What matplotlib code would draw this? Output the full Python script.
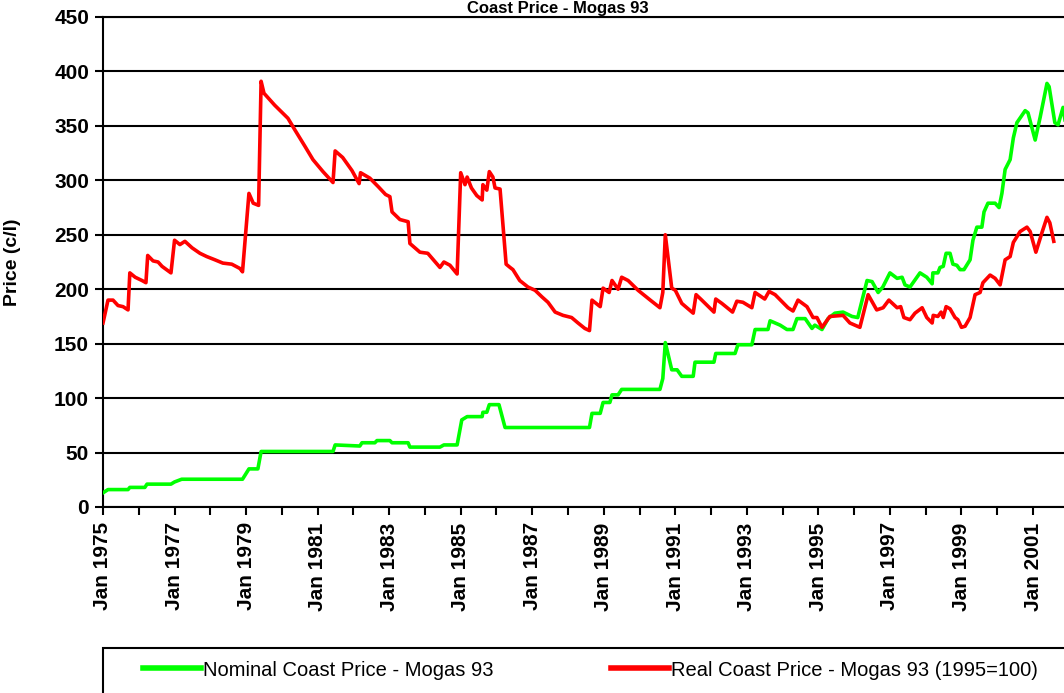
import matplotlib
matplotlib.use("Agg")
import matplotlib.pyplot as plt
from matplotlib.patches import Rectangle
from matplotlib.ticker import MultipleLocator, FixedLocator

plt.rcParams["font.family"] = ["Liberation Sans", "DejaVu Sans"]

# nominal coast price (decimal year, c/l)
nominal_year = [1975.00, 1975.14, 1975.70, 1975.75, 1976.17, 1976.23, 1976.90, 1977.00, 1977.20, 1978.90,
                1979.08, 1979.33, 1979.42, 1981.43, 1981.49, 1982.18, 1982.24, 1982.60, 1982.66, 1983.02,
                1983.08, 1983.53, 1983.58, 1984.42, 1984.53, 1984.90, 1985.03, 1985.18, 1985.60, 1985.62,
                1985.73, 1985.80, 1986.07, 1986.24, 1988.60, 1988.67, 1988.90, 1988.98, 1989.17, 1989.23,
                1989.40, 1989.50, 1990.57, 1990.65, 1990.72, 1990.90, 1991.05, 1991.18, 1991.50, 1991.55,
                1992.08, 1992.13, 1992.67, 1992.75, 1993.14, 1993.23, 1993.59, 1993.65, 1993.93, 1994.12,
                1994.29, 1994.40, 1994.63, 1994.82, 1994.90, 1995.10, 1995.27, 1995.46, 1995.69, 1995.94,
                1996.10, 1996.36, 1996.50, 1996.67, 1996.80, 1997.00, 1997.20, 1997.34, 1997.42, 1997.56,
                1997.84, 1998.03, 1998.18, 1998.20, 1998.34, 1998.40, 1998.49, 1998.57, 1998.68, 1998.76,
                1998.87, 1998.96, 1999.07, 1999.24, 1999.32, 1999.43, 1999.57, 1999.63, 1999.74, 1999.94,
                2000.05, 2000.13, 2000.22, 2000.36, 2000.45, 2000.55, 2000.78, 2000.86, 2001.06, 2001.20,
                2001.39, 2001.45, 2001.61, 2001.70, 2001.84, 2001.92]
nominal_price = [13, 16, 16, 18, 18, 21, 21, 23, 25.5, 25.5,
                 35, 35, 51, 51, 57, 56, 59, 59, 61, 61,
                 59, 59, 55, 55, 57, 57, 80, 83, 83, 87,
                 87, 94, 94, 73, 73, 86, 86, 96, 96, 103,
                 103, 108, 108, 118, 151, 126, 126, 120, 120, 133,
                 133, 141, 141, 149, 149, 163, 163, 171, 167, 163,
                 163, 173, 173, 164, 167, 163, 173, 178, 179, 175,
                 174, 208, 207, 197, 202, 215, 210, 211, 204, 202,
                 215, 211, 205, 215, 215, 220, 221, 233, 233, 223,
                 222, 218, 218, 227, 245, 257, 257, 271, 279, 279,
                 275, 288, 310, 319, 339, 353, 364, 362, 337, 358,
                 389, 386, 353, 351, 367, 350]

# real coast price, 1995=100 (decimal year, c/l)
real_year = [1975.00, 1975.14, 1975.28, 1975.42, 1975.56, 1975.70, 1975.75, 1975.90, 1976.09, 1976.20,
             1976.25, 1976.40, 1976.54, 1976.65, 1976.90, 1977.00, 1977.15, 1977.29, 1977.49, 1977.71,
             1977.90, 1978.13, 1978.35, 1978.60, 1978.83, 1978.90, 1979.08, 1979.20, 1979.35, 1979.42,
             1979.50, 1979.80, 1980.17, 1980.37, 1980.65, 1980.87, 1981.15, 1981.43, 1981.49, 1981.70,
             1981.96, 1982.16, 1982.20, 1982.46, 1982.70, 1982.90, 1983.02, 1983.08, 1983.30, 1983.53,
             1983.58, 1983.86, 1984.08, 1984.42, 1984.53, 1984.70, 1984.90, 1985.00, 1985.12, 1985.18,
             1985.30, 1985.45, 1985.60, 1985.62, 1985.73, 1985.80, 1985.90, 1985.96, 1986.10, 1986.27,
             1986.38, 1986.46, 1986.65, 1986.88, 1987.08, 1987.27, 1987.44, 1987.64, 1987.86, 1988.10,
             1988.28, 1988.47, 1988.60, 1988.67, 1988.90, 1988.98, 1989.15, 1989.23, 1989.40, 1989.50,
             1989.68, 1989.96, 1990.30, 1990.57, 1990.65, 1990.72, 1990.90, 1991.00, 1991.18, 1991.50,
             1991.58, 1991.74, 1992.08, 1992.13, 1992.30, 1992.60, 1992.72, 1992.89, 1993.14, 1993.23,
             1993.50, 1993.62, 1993.79, 1994.15, 1994.29, 1994.43, 1994.68, 1994.85, 1994.96, 1995.10,
             1995.32, 1995.69, 1995.88, 1996.16, 1996.39, 1996.63, 1996.81, 1996.97, 1997.20, 1997.30,
             1997.39, 1997.56, 1997.70, 1997.90, 1998.03, 1998.18, 1998.21, 1998.34, 1998.43, 1998.49,
             1998.57, 1998.68, 1998.82, 1998.90, 1999.00, 1999.10, 1999.24, 1999.38, 1999.52, 1999.60,
             1999.80, 1999.94, 2000.08, 2000.22, 2000.36, 2000.45, 2000.64, 2000.83, 2000.92, 2001.08,
             2001.25, 2001.39, 2001.47, 2001.58]
real_price = [169, 190, 190, 185, 184, 181, 215, 211, 208, 206,
              231, 226, 225, 221, 215, 245, 241, 244, 238, 233,
              230, 227, 224, 223, 219, 216, 288, 279, 277, 391,
              380, 369, 357, 346, 331, 319, 308, 298, 327, 321,
              309, 297, 307, 302, 294, 287, 285, 271, 264, 262,
              242, 234, 233, 220, 225, 222, 214, 307, 296, 303,
              293, 286, 282, 296, 291, 308, 303, 293, 292, 223,
              220, 218, 208, 202, 199, 193, 188, 179, 176, 174,
              169, 164, 162, 190, 184, 201, 197, 208, 200, 211,
              208, 199, 190, 183, 197, 250, 201, 199, 187, 178,
              195, 190, 179, 191, 187, 179, 189, 188, 183, 197,
              191, 198, 195, 183, 180, 190, 184, 174, 174, 165,
              175, 176, 169, 165, 195, 181, 183, 190, 183, 184,
              174, 172, 178, 183, 174, 169, 176, 175, 179, 174,
              184, 182, 174, 172, 165, 166, 174, 195, 197, 206,
              213, 210, 204, 227, 230, 243, 253, 257, 253, 234,
              252, 266, 261, 244]

tick_years = list(range(1975, 2002, 2))
tick_labels = ["Jan %d" % y for y in tick_years]

fig = plt.figure(figsize=(10.64, 6.93), dpi=100)
ax = fig.add_axes([103 / 1064, 1 - 507 / 693, 1 - 103 / 1064, (507 - 17) / 693])

ax.plot(nominal_year, nominal_price, color="#00ff00", lw=2.6, zorder=3,
        label="Nominal Coast Price - Mogas 93")
ax.plot(real_year, real_price, color="#ff0000", lw=2.6, zorder=3,
        label="Real Coast Price - Mogas 93 (1995=100)")

ax.set_xlim(1975, 1975 + 961 / 35.77)
ax.set_ylim(0, 450)
ax.yaxis.set_major_locator(MultipleLocator(50))
ax.xaxis.set_major_locator(FixedLocator(tick_years))
ax.xaxis.set_minor_locator(MultipleLocator(1))
ax.set_xticklabels(tick_labels, rotation=90, fontsize=15, fontweight="bold")
for lab in ax.get_yticklabels():
    lab.set_fontsize(15)
    lab.set_fontweight("bold")

ax.grid(axis="y", color="black", lw=1.5)
ax.set_axisbelow(True)
ax.spines["right"].set_visible(False)
for s in ["left", "bottom", "top"]:
    ax.spines[s].set_linewidth(1.5)
ax.tick_params(axis="both", which="both", direction="out", length=6, width=1.5, color="black")
ax.tick_params(axis="x", pad=5)
ax.tick_params(axis="y", pad=4)

ax.set_ylabel("Price (c/l)", fontsize=14, fontweight="bold")
ax.yaxis.set_label_coords(-0.085, 0.5)

# title squeezed into the strip above the plot
fig.text(558 / 1064, 1 - 1 / 693, "Coast Price - Mogas 93", ha="center", va="top",
         fontsize=12, fontweight="bold")

# legend box running off the right/bottom edge
fig.patches.append(Rectangle((103 / 1064, -0.05), 1.0, 1 - 648 / 693 + 0.05,
                             transform=fig.transFigure, fill=False, ec="black", lw=1.5))
fig.legend(loc="center left", bbox_to_anchor=(143 / 1064, 1 - 670 / 693), ncol=2,
           frameon=False, fontsize=14.5, handlelength=2.9, handletextpad=0.1,
           columnspacing=5.8, borderpad=0, borderaxespad=0)
for h in fig.legends[0].get_lines():
    h.set_linewidth(4)

fig.savefig("out.png", dpi=100)
